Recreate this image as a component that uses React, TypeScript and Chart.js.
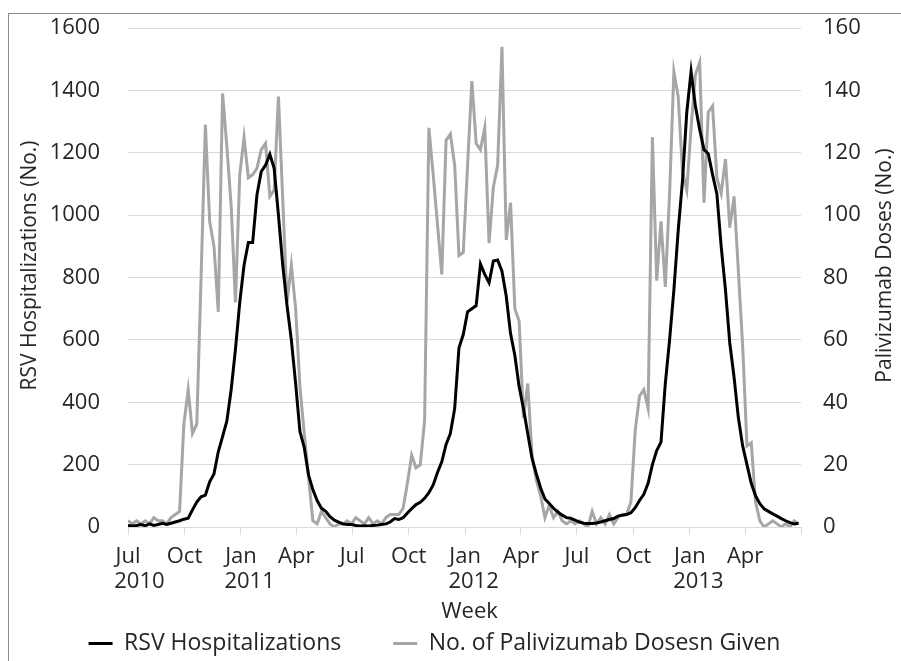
import React, { useEffect, useRef } from "react";
import { Chart, registerables } from "chart.js";

Chart.register(...registerables);

// Weekly series, first week = 1 Jul 2010 (x in days since that date)
const rsvHospitalizations: number[] = [
  5, 3, 5, 8, 4, 10, 5, 8, 12, 8,
  12, 16, 20, 25, 28, 55, 80, 97, 102, 145,
  170, 241, 290, 340, 440, 570, 720, 840, 912, 912,
  1065, 1140, 1160, 1195, 1150, 1000, 840, 710, 600, 460,
  306, 255, 167, 120, 85, 60, 50, 33, 22, 16,
  10, 8, 8, 5, 3, 4, 3, 5, 6, 8,
  10, 16, 27, 24, 30, 45, 59, 72, 79, 92,
  110, 135, 175, 209, 265, 300, 380, 575, 617, 690,
  700, 710, 843, 810, 783, 853, 856, 820, 740, 620,
  550, 450, 380, 300, 220, 170, 125, 90, 75, 60,
  48, 38, 30, 28, 22, 16, 12, 11, 11, 13,
  16, 20, 24, 27, 35, 38, 40, 46, 62, 85,
  105, 140, 200, 245, 272, 460, 600, 760, 950, 1110,
  1330, 1460, 1350, 1275, 1210, 1197, 1130, 1068, 900, 760,
  590, 480, 350, 260, 200, 140, 100, 75, 58, 50,
  42, 35, 27, 20, 14, 10, 12,
];

const palivizumabDoses: number[] = [
  2, 1, 2, 1, 2, 1, 3, 2, 2, 1,
  3, 4, 5, 33, 44, 30, 33, 80, 129, 98,
  90, 69, 139, 122, 103, 72, 113, 125, 112, 113,
  115, 121, 123, 106, 108, 138, 105, 72, 84, 70,
  45, 30, 16, 2, 1, 5, 3, 1, 0, 1,
  1, 2, 1, 3, 2, 1, 3, 1, 2, 1,
  3, 4, 4, 4, 6, 14, 23, 19, 20, 34,
  128, 113, 97, 81, 124, 126, 116, 87, 88, 116,
  143, 123, 121, 128, 91, 109, 116, 154, 92, 104,
  70, 66, 35, 46, 23, 15, 10, 3, 7, 3,
  5, 2, 1, 2, 1, 2, 1, 0, 5, 1,
  3, 1, 4, 1, 3, 4, 4, 8, 31, 42,
  44, 38, 125, 79, 98, 77, 107, 146, 138, 114,
  108, 128, 145, 149, 104, 133, 135, 112, 107, 118,
  96, 106, 82, 58, 26, 27, 8, 2, 0, 1,
  2, 1, 0, 1, 0, 2, 1,
];

const weekDays: number[] = rsvHospitalizations.map((_, i) => i * 7);

// Quarter boundaries (days since 1 Jul 2010)
const tickDays: number[] = [0, 92, 184, 274, 365, 457, 549, 640, 731, 823, 915, 1005, 1096];
const tickMonths: string[] = ["Jul", "Oct", "Jan", "Apr", "Jul", "Oct", "Jan", "Apr", "Jul", "Oct", "Jan", "Apr", ""];
const tickYears: string[] = ["2010", "", "2011", "", "", "", "2012", "", "", "", "2013", "", ""];

const leftTicks = { min: 0, max: 1600, step: 200 };
const rightTicks = { min: 0, max: 160, step: 20 };

const seriesNames = ["RSV Hospitalizations", "No. of Palivizumab Dosesn Given"];
const leftTitle = "RSV Hospitalizations (No.)";
const rightTitle = "Palivizumab Doses (No.)";
const xTitle = "Week";

const FONT = "'Open Sans', 'Noto Sans', sans-serif";
const TEXT = "#262626";
const GRID = "#d9d9d9";
const CLEAR = "rgba(0,0,0,0)";

const titlesPlugin = {
  id: "customTitles",
  afterDraw(chart: any) {
    const { ctx, chartArea } = chart;
    const cy = (chartArea.top + chartArea.bottom) / 2 - 12;
    ctx.save();
    ctx.fillStyle = TEXT;
    ctx.font = `21px ${FONT}`;
    ctx.textAlign = "center";
    ctx.textBaseline = "middle";
    ctx.save();
    ctx.translate(30, cy);
    ctx.rotate(-Math.PI / 2);
    ctx.fillText(leftTitle, 0, 0);
    ctx.restore();
    ctx.save();
    ctx.translate(885, cy);
    ctx.rotate(-Math.PI / 2);
    ctx.fillText(rightTitle, 0, 0);
    ctx.restore();
    ctx.font = `22px ${FONT}`;
    ctx.fillText(xTitle, (chartArea.left + chartArea.right) / 2 + 5, 612);
    ctx.restore();
  },
};

export default function App() {
  const ref = useRef<HTMLCanvasElement | null>(null);

  useEffect(() => {
    if (!ref.current) return;
    const chart = new Chart(ref.current, {
      type: "line",
      data: {
        datasets: [
          {
            label: seriesNames[0],
            data: weekDays.map((d, i) => ({ x: d, y: rsvHospitalizations[i] })),
            borderColor: "#000000",
            backgroundColor: "#000000",
            borderWidth: 3,
            pointRadius: 0,
            tension: 0,
            yAxisID: "y",
          },
          {
            label: seriesNames[1],
            data: weekDays.map((d, i) => ({ x: d, y: palivizumabDoses[i] })),
            borderColor: "#a6a6a6",
            backgroundColor: "#a6a6a6",
            borderWidth: 3,
            pointRadius: 0,
            tension: 0,
            yAxisID: "y1",
          },
        ],
      },
      options: {
        animation: false,
        responsive: false,
        maintainAspectRatio: false,
        layout: { padding: { top: 28, left: 0, right: 32, bottom: -4 } },
        plugins: {
          tooltip: { enabled: false },
          legend: {
            position: "bottom",
            labels: {
              font: { family: FONT, size: 23 },
              color: TEXT,
              boxWidth: 24,
              boxHeight: 3,
              padding: 40,
              generateLabels: (c: any) =>
                Chart.defaults.plugins.legend.labels
                  .generateLabels(c)
                  .map((it: any, i: number) => ({
                    ...it,
                    lineWidth: 0,
                    text: i === 0 ? it.text + "  " : it.text,
                  })),
            },
          },
        },
        scales: {
          x: {
            type: "linear",
            min: 0,
            max: 1096,
            afterBuildTicks: (axis: any) => {
              axis.ticks = tickDays.map((v) => ({ value: v }));
            },
            afterFit: (axis: any) => {
              axis.height = 65;
            },
            grid: {
              drawOnChartArea: false,
              drawTicks: true,
              tickLength: 8,
              color: GRID,
              tickColor: GRID,
              lineWidth: 1,
            },
            border: { display: true, color: GRID, width: 1 },
            ticks: {
              autoSkip: false,
              maxRotation: 0,
              minRotation: 0,
              padding: 10,
              color: TEXT,
              font: { family: FONT, size: 22, lineHeight: 1.1 },
              callback: (_v: any, i: number) => {
                const m = tickMonths[i];
                const y = tickYears[i];
                if (!y) return m;
                const pad = m === "Jul" ? "    " : "   ";
                return [m, pad + y];
              },
            },
          },
          y: {
            position: "left",
            min: leftTicks.min,
            max: leftTicks.max,
            afterFit: (axis: any) => {
              axis.width = 128;
            },
            grid: { color: GRID, lineWidth: 1, drawTicks: true, tickLength: 28, tickColor: CLEAR },
            border: { display: false },
            ticks: {
              stepSize: leftTicks.step,
              padding: 0,
              color: TEXT,
              font: { family: FONT, size: 22 },
              callback: (v: any) => String(v),
            },
          },
          y1: {
            position: "right",
            min: rightTicks.min,
            max: rightTicks.max,
            afterFit: (axis: any) => {
              axis.width = 68;
            },
            grid: { display: true, drawOnChartArea: false, drawTicks: true, tickLength: 22, tickColor: CLEAR, color: CLEAR },
            border: { display: false },
            ticks: {
              stepSize: rightTicks.step,
              padding: 0,
              color: TEXT,
              font: { family: FONT, size: 22 },
              callback: (v: any) => String(v),
            },
          },
        },
      },
      plugins: [titlesPlugin],
    });
    return () => chart.destroy();
  }, []);

  return (
    <div
      style={{
        position: "fixed",
        left: 0,
        top: 0,
        width: 901,
        height: 661,
        background: "#ffffff",
        overflow: "hidden",
      }}
    >
      <canvas ref={ref} width={901} height={661} style={{ display: "block" }} />
      <div
        style={{
          position: "absolute",
          left: 8,
          top: 13,
          right: 0,
          bottom: 0,
          borderTop: "1px solid #8c8c8c",
          borderLeft: "1px solid #8c8c8c",
          pointerEvents: "none",
        }}
      />
    </div>
  );
}
